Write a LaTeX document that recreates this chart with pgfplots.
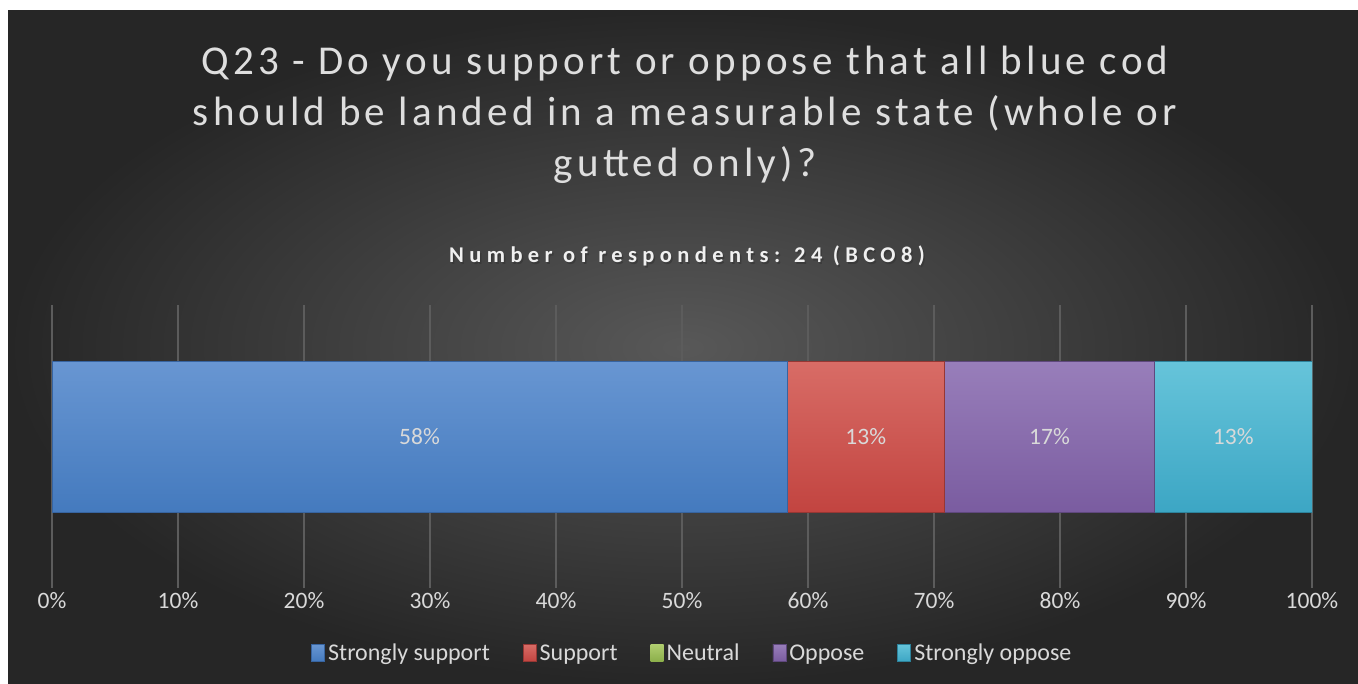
\documentclass[border=0pt]{standalone}
\usepackage{pgfplots}
\pgfplotsset{compat=1.18}
\usepackage{fontspec}
\setmainfont{Carlito}
\definecolor{bgin}{RGB}{88,88,88}
\definecolor{bgout}{RGB}{38,38,38}
\definecolor{titlec}{RGB}{222,222,222}
\definecolor{subc}{RGB}{240,240,240}
\definecolor{lblc}{RGB}{217,217,217}
\definecolor{gridc}{RGB}{92,92,92}
\definecolor{bluetop}{RGB}{104,150,210}
\definecolor{bluebot}{RGB}{68,122,190}
\definecolor{bluedk}{RGB}{55,100,160}
\definecolor{redtop}{RGB}{216,108,102}
\definecolor{redbot}{RGB}{194,68,64}
\definecolor{reddk}{RGB}{150,55,52}
\definecolor{greentop}{RGB}{175,205,110}
\definecolor{greenbot}{RGB}{140,175,75}
\definecolor{greendk}{RGB}{110,140,60}
\definecolor{purptop}{RGB}{152,126,186}
\definecolor{purpbot}{RGB}{122,92,160}
\definecolor{purpdk}{RGB}{95,72,125}
\definecolor{aquatop}{RGB}{102,196,218}
\definecolor{aquabot}{RGB}{60,166,196}
\definecolor{aquadk}{RGB}{45,130,155}
\begin{document}
\begin{tikzpicture}
\fill[white] (0pt,0pt) rectangle (1358pt,684pt);
\shade[inner color=bgin, outer color=bgout] (8pt,0pt) rectangle (1358pt,673pt);
\node[text=titlec, align=center, font=\fontsize{41}{51}\selectfont\addfontfeatures{LetterSpace=10.3}] at (685pt,569pt) {Q23 - Do you support or oppose that all blue cod\\should be landed in a measurable state (whole or\\gutted only)?};
\node[text=black!80, opacity=0.6, font=\fontsize{22.5}{27}\selectfont\bfseries\addfontfeatures{LetterSpace=24}] at (688.5pt,426.5pt) {Number of respondents: 24 (BCO8)};
\node[text=subc, font=\fontsize{22.5}{27}\selectfont\bfseries\addfontfeatures{LetterSpace=24}] at (687pt,428pt) {Number of respondents: 24 (BCO8)};
\begin{axis}[
  at={(52pt,247pt)}, anchor=origin, scale only axis,
  width=1260pt, height=283pt,
  xmin=0, xmax=1, ymin=-1.0672, ymax=0.9328,
  xbar stacked, bar width=151pt,
  ytick=\empty,
  xtick={0,0.1,0.2,0.3,0.4,0.5,0.6,0.7,0.8,0.9,1},
  xticklabels={0\%,10\%,20\%,30\%,40\%,50\%,60\%,70\%,80\%,90\%,100\%},
  xticklabel style={anchor=center, yshift=-13pt, font=\fontsize{23.5}{28}\selectfont, text=lblc},
  axis line style={draw=none},
  major tick length=0pt,
  xmajorgrids, major grid style={gridc, line width=1.2pt},
  legend image code/.code={\fill[#1] (0pt,-8.5pt) rectangle (13pt,8.5pt);},
  legend style={at={(0.5087,-0.2297)}, anchor=center, draw=none, fill=none,
    font=\fontsize{24}{28}\selectfont, text=lblc,
    nodes={inner xsep=3pt, inner ysep=0pt},
    /tikz/every even column/.append style={column sep=30pt}},
  legend columns=-1,
]
\addplot[draw=bluedk, line width=0.8pt, top color=bluetop, bottom color=bluebot] coordinates {(0.583333,0)};
\addplot[draw=reddk, line width=0.8pt, top color=redtop, bottom color=redbot] coordinates {(0.125,0)};
\addplot[draw=none, top color=greentop, bottom color=greenbot] coordinates {(0,0)};
\addplot[draw=purpdk, line width=0.8pt, top color=purptop, bottom color=purpbot] coordinates {(0.166667,0)};
\addplot[draw=aquadk, line width=0.8pt, top color=aquatop, bottom color=aquabot] coordinates {(0.125,0)};
\legend{Strongly support, Support, Neutral, Oppose, Strongly oppose}
\end{axis}
\begin{axis}[
  at={(52pt,247pt)}, anchor=origin, scale only axis,
  width=1260pt, height=283pt,
  xmin=0, xmax=1, ymin=-1.0672, ymax=0.9328,
  hide axis,
]
\addplot[only marks, mark=none,
  nodes near coords, point meta=explicit symbolic,
  every node near coord/.append style={anchor=center, font=\fontsize{23.5}{28}\selectfont, text=lblc}]
  coordinates {(0.291667,0) [58\%] (0.645833,0) [13\%] (0.791667,0) [17\%] (0.9375,0) [13\%]};
\end{axis}
\end{tikzpicture}
\end{document}
